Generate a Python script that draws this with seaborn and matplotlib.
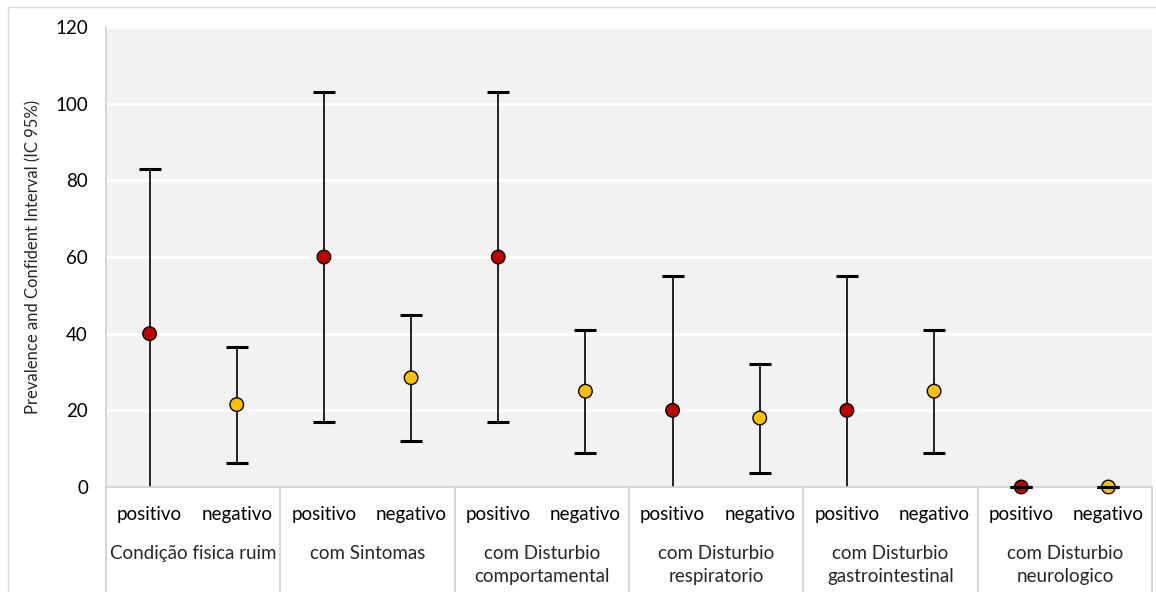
import matplotlib
matplotlib.use("Agg")
import matplotlib.pyplot as plt
from matplotlib.patches import Rectangle
import seaborn as sns
import numpy as np
import pandas as pd

# dados
grupos = ["Condição fisica ruim", "com Sintomas", "com Disturbio\ncomportamental",
          "com Disturbio\nrespiratorio", "com Disturbio\ngastrointestinal",
          "com Disturbio\nneurologico"]
resultado = ["positivo", "negativo"]
prevalencia = [40, 21.5, 60, 28.5, 60, 25, 20, 18, 20, 25, 0, 0]
limite_inf = [-3, 6.2, 17, 12, 17, 9, -15, 3.6, -15, 9, 0, 0]
limite_sup = [83, 36.5, 103, 45, 103, 41, 55, 32, 55, 41, 0, 0]

df = pd.DataFrame({
    "pos": np.arange(len(prevalencia)),
    "grupo": [g for g in grupos for _ in resultado],
    "resultado": resultado * len(grupos),
    "prev": prevalencia,
    "inf": limite_inf,
    "sup": limite_sup,
})

sns.set_theme(style="white")
plt.rcParams["font.family"] = ["Lato", "DejaVu Sans"]

fig = plt.figure(figsize=(11.56, 5.92), dpi=100)
ax = fig.add_axes([106 / 1156, 105 / 592, 1046 / 1156, 460 / 592])
ax.set_facecolor("#F2F2F2")

# borda do grafico
fig.patches.append(Rectangle((8 / 1156, -0.05), 1.2, 0.05 + 585 / 592,
                             transform=fig.transFigure, fill=False,
                             edgecolor="#D9D9D9", linewidth=1))

# barras de erro (as de largura zero ficam por cima do marcador, como no original)
largos = df[df["sup"] > df["inf"]]
zeros = df[df["sup"] == df["inf"]]
for parte, z, clip in [(largos, 2, True), (zeros, 4, False)]:
    ax.errorbar(parte["pos"], parte["prev"],
                yerr=[parte["prev"] - parte["inf"], parte["sup"] - parte["prev"]],
                fmt="none", ecolor="black", elinewidth=1.2, capsize=8, capthick=2.2,
                zorder=z, clip_on=clip)
sns.scatterplot(data=df, x="pos", y="prev", hue="resultado",
                palette={"positivo": "#C00000", "negativo": "#FFC000"},
                s=95, edgecolor="black", linewidth=1, legend=False, ax=ax,
                zorder=3, clip_on=False)

ax.set_xlim(-0.5, len(prevalencia) - 0.5)
ax.set_ylim(0, 120)
ax.set_yticks(range(0, 121, 20))
ax.grid(axis="y", color="white", linewidth=2)
ax.set_axisbelow(True)
ax.tick_params(axis="y", labelsize=13.5, length=0, pad=13, colors="black")
ax.tick_params(axis="x", labelsize=13.5, length=0, pad=14, colors="black")
ax.set_xticks(df["pos"])
ax.set_xticklabels(df["resultado"])
ax.set_xlabel("")
ax.set_ylabel("Prevalence and Confident Interval (IC 95%)", fontsize=12, labelpad=10)

for lado in ["top", "right"]:
    ax.spines[lado].set_visible(False)
for lado in ["left", "bottom"]:
    ax.spines[lado].set_color("#D0D0D0")
    ax.spines[lado].set_linewidth(1.2)

# rotulos de grupo e separadores
trans = ax.get_xaxis_transform()
for i, g in enumerate(grupos):
    ax.text(2 * i + 0.5, -0.127, g, transform=trans, ha="center", va="top",
            fontsize=13.5, linespacing=1.42)
for i in range(len(grupos) + 1):
    ax.plot([2 * i - 0.5, 2 * i - 0.5], [0, -0.25], transform=trans,
            color="#D0D0D0", linewidth=1.2, clip_on=False)

fig.savefig("out.png", dpi=100)
